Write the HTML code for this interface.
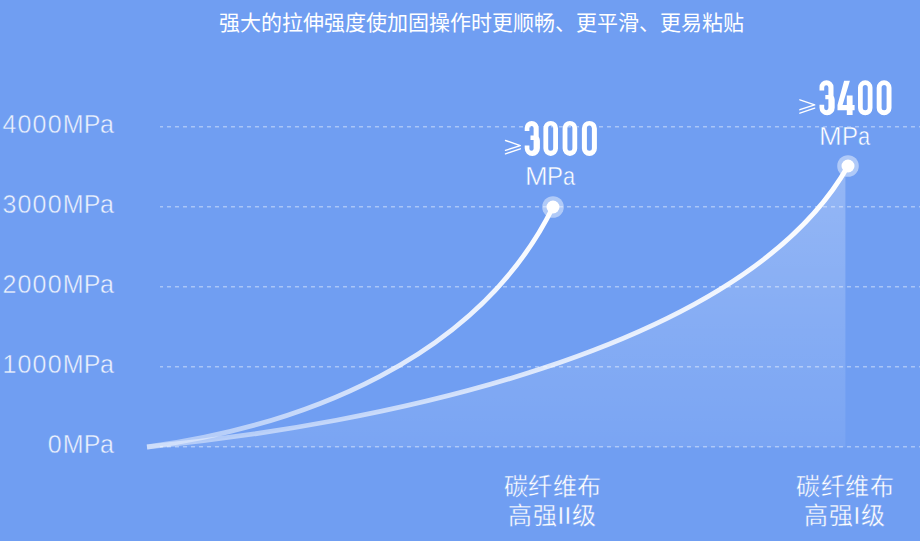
<!DOCTYPE html>
<html lang="zh-CN">
<head>
<meta charset="utf-8">
<style>
html,body{margin:0;padding:0;}
body{width:920px;height:541px;overflow:hidden;background:#709ef2;position:relative;font-family:"Liberation Sans",sans-serif;color:#fff;}
.title{position:absolute;left:-1.5px;top:9px;width:965px;text-align:center;font-size:21px;line-height:28px;white-space:nowrap;}
.ylab{position:absolute;right:806.2px;font-size:25px;line-height:30px;color:rgba(255,255,255,0.9);letter-spacing:0;white-space:nowrap;-webkit-text-stroke:0.45px #709ef2;}
.ylab .d{letter-spacing:1.2px;}
.ylab .p{letter-spacing:-0.4px;}
.mpa{position:absolute;width:920px;height:28px;font-size:25px;line-height:28px;white-space:nowrap;-webkit-text-stroke:0.45px #709ef2;}
.mpa span{position:absolute;top:0;transform-origin:0 0;}
.bl{position:absolute;width:140px;text-align:center;font-size:24px;letter-spacing:0.5px;text-indent:0.5px;line-height:29px;white-space:nowrap;-webkit-text-stroke:0.35px #709ef2;}
svg{position:absolute;left:0;top:0;}
</style>
</head>
<body>
<svg width="920" height="541" viewBox="0 0 920 541">
  <defs>
    <linearGradient id="fill" x1="0" y1="166" x2="0" y2="447" gradientUnits="userSpaceOnUse">
      <stop offset="0" stop-color="#fff" stop-opacity="0.26"/>
      <stop offset="1" stop-color="#fff" stop-opacity="0.07"/>
    </linearGradient>
    <linearGradient id="s1" x1="147" y1="447" x2="553" y2="207" gradientUnits="userSpaceOnUse">
      <stop offset="0" stop-color="#fff" stop-opacity="0.4"/>
      <stop offset="0.6" stop-color="#fff" stop-opacity="0.8"/>
      <stop offset="1" stop-color="#fff" stop-opacity="1"/>
    </linearGradient>
    <linearGradient id="s2" x1="147" y1="447" x2="848" y2="166" gradientUnits="userSpaceOnUse">
      <stop offset="0" stop-color="#fff" stop-opacity="0.4"/>
      <stop offset="0.6" stop-color="#fff" stop-opacity="0.8"/>
      <stop offset="1" stop-color="#fff" stop-opacity="1"/>
    </linearGradient>
    <clipPath id="fc"><rect x="0" y="0" width="845.4" height="541"/></clipPath>
  </defs>
  <path d="M147,447 C371.17,425.30 741.94,353.14 848,166 L848,447 Z" fill="url(#fill)" clip-path="url(#fc)"/>
  <g stroke="rgba(255,255,255,0.4)" stroke-width="1.6" stroke-dasharray="4 4" stroke-dashoffset="1">
    <line x1="160" y1="126.8" x2="920" y2="126.8"/>
    <line x1="160" y1="206.8" x2="920" y2="206.8"/>
    <line x1="160" y1="286.8" x2="920" y2="286.8"/>
    <line x1="160" y1="366.8" x2="920" y2="366.8"/>
    <line x1="160" y1="446.8" x2="920" y2="446.8"/>
  </g>
  <path d="M147,447 C301.96,425.64 477.58,359.73 553,207" fill="none" stroke="url(#s1)" stroke-width="4.8"/>
  <path d="M147,447 C371.17,425.30 741.94,353.14 848,166" fill="none" stroke="url(#s2)" stroke-width="4.8"/>
  <circle cx="553" cy="207" r="10.8" fill="rgba(255,255,255,0.45)"/>
  <circle cx="553" cy="207" r="6.5" fill="#fff"/>
  <circle cx="848" cy="166" r="10.8" fill="rgba(255,255,255,0.45)"/>
  <circle cx="848" cy="166" r="6.5" fill="#fff"/>
  <g fill="#fff" fill-rule="evenodd">
    <path d="M524.7,131.0 L524.7,127.9 A7.0,7.0 0 0 1 538.7,127.9 L538.7,136.4 L539.50,138.4 L539.90,140.4 L539.90,148.3 A7.6,7.6 0 0 1 524.7,148.3 L524.7,145.4 L529.40,145.4 L529.40,148.70 A2.1,2.1 0 0 0 533.6,148.70 L533.6,139.9 L530.5,139.9 L530.5,135.6 L533.6,135.6 L533.6,128.0 A2.1,2.1 0 0 0 529.40,128.0 L529.40,131.0 Z M543.4,128.20 A7.3,7.3 0 0 1 558.0,128.20 L558.0,148.6 A7.3,7.3 0 0 1 543.4,148.6 Z M548.19,128.0 A2.5,2.5 0 0 1 553.19,128.0 L553.19,148.3 A2.5,2.5 0 0 1 548.19,148.3 Z M562.6,128.20 A7.3,7.3 0 0 1 577.2,128.20 L577.2,148.6 A7.3,7.3 0 0 1 562.6,148.6 Z M567.4,128.0 A2.5,2.5 0 0 1 572.4,128.0 L572.4,148.3 A2.5,2.5 0 0 1 567.4,148.3 Z M581.9,128.4 A7.5,7.5 0 0 1 596.9,128.4 L596.9,148.4 A7.5,7.5 0 0 1 581.9,148.4 Z M586.9,128.0 A2.5,2.5 0 0 1 591.9,128.0 L591.9,148.3 A2.5,2.5 0 0 1 586.9,148.3 Z"/>
    <path d="M819.5,90.39 L819.5,87.3 A7.0,7.0 0 0 1 833.5,87.3 L833.5,95.8 L834.30,97.8 L834.7,99.8 L834.7,107.7 A7.6,7.6 0 0 1 819.5,107.7 L819.5,104.8 L824.2,104.8 L824.2,108.1 A2.1,2.1 0 0 0 828.4,108.1 L828.4,99.3 L825.3,99.3 L825.3,95.0 L828.4,95.0 L828.4,87.39 A2.1,2.1 0 0 0 824.2,87.39 L824.2,90.39 Z M844.1,80.8 L849.9,80.8 L842.6,105.1 L846.8,105.1 L846.8,95.39 L852.6,95.39 L852.6,105.1 L854.6,105.1 L854.6,110.19 L852.6,110.19 L852.6,115.0 L846.8,115.0 L846.8,110.19 L837.5,110.19 L837.5,105.1 Z M858.0,87.55 A7.25,7.25 0 0 1 872.5,87.55 L872.5,108.05 A7.25,7.25 0 0 1 858.0,108.05 Z M862.75,87.39 A2.5,2.5 0 0 1 867.75,87.39 L867.75,107.69 A2.5,2.5 0 0 1 862.75,107.69 Z M876.7,87.7 A7.4,7.4 0 0 1 891.5,87.7 L891.5,107.89 A7.4,7.4 0 0 1 876.7,107.89 Z M881.6,87.39 A2.5,2.5 0 0 1 886.6,87.39 L886.6,107.69 A2.5,2.5 0 0 1 881.6,107.69 Z"/>
  </g>
  <g fill="none" stroke="#fff" stroke-width="1.4" stroke-linecap="round" stroke-linejoin="round">
    <path d="M505.5,140.5 L520.3,145.6 L505.5,150.4 M505.5,153.9 L520.3,148.8"/>
    <path transform="translate(294.4,-40.7)" d="M505.5,140.5 L520.3,145.6 L505.5,150.4 M505.5,153.9 L520.3,148.8"/>
  </g>
</svg>

<div class="title">强大的拉伸强度使加固操作时更顺畅、更平滑、更易粘贴</div>

<div class="ylab" style="top:109px"><span class="d">4000</span>M<span class="p">P</span>a</div>
<div class="ylab" style="top:189px"><span class="d">3000</span>M<span class="p">P</span>a</div>
<div class="ylab" style="top:269px"><span class="d">2000</span>M<span class="p">P</span>a</div>
<div class="ylab" style="top:349px"><span class="d">1000</span>M<span class="p">P</span>a</div>
<div class="ylab" style="top:429px"><span class="d">0</span>M<span class="p">P</span>a</div>

<div class="mpa" style="left:0;top:161.8px"><span style="left:524.67px;transform:scaleX(1.09)">M</span><span style="left:547.03px;transform:scaleX(0.96)">P</span><span style="left:563.08px;transform:scaleX(0.87)">a</span></div>
<div class="mpa" style="left:0;top:121.5px"><span style="left:819.17px;transform:scaleX(1.09)">M</span><span style="left:841.53px;transform:scaleX(0.96)">P</span><span style="left:857.58px;transform:scaleX(0.87)">a</span></div>

<div class="bl" style="left:482.3px;top:472px">碳纤维布<br>高强II级</div>
<div class="bl" style="left:774.8px;top:472px">碳纤维布<br>高强I级</div>
</body>
</html>
